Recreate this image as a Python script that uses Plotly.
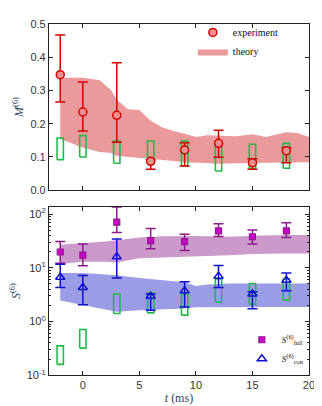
import plotly.graph_objects as go

# ----- Data ----- #
t_exp = [-2, 0, 3, 6, 9, 12, 15, 18]

# top panel: M^(6)
m_exp = [0.347, 0.235, 0.225, 0.087, 0.121, 0.141, 0.083, 0.119]
m_hi = [0.466, 0.325, 0.383, 0.092, 0.143, 0.180, 0.095, 0.128]
m_lo = [0.265, 0.178, 0.144, 0.063, 0.073, 0.099, 0.063, 0.083]
m_box_hi = [0.157, 0.164, 0.148, 0.148, 0.148, 0.133, 0.138, 0.141]
m_box_lo = [0.092, 0.100, 0.081, 0.080, 0.073, 0.058, 0.065, 0.066]

t_theory = [-2, 0, 1.5, 2.5, 3, 4, 5, 6, 7, 8, 9, 10, 11, 12, 13.5, 15, 16.2, 17, 18, 19, 20]
m_theory_hi = [0.338, 0.338, 0.330, 0.300, 0.272, 0.243, 0.241, 0.209, 0.189, 0.178, 0.170,
               0.160, 0.165, 0.163, 0.162, 0.168, 0.160, 0.167, 0.174, 0.172, 0.160]
m_theory_lo = [0.155, 0.128, 0.115, 0.112, 0.104, 0.100, 0.097, 0.095, 0.092, 0.088, 0.084,
               0.083, 0.082, 0.080, 0.081, 0.082, 0.083, 0.084, 0.084, 0.084, 0.084]

# bottom panel: S^(6)
s_full = [19.7, 17.2, 70.7, 32.0, 30.7, 48.6, 37.9, 48.6]
s_full_hi = [31.0, 27.9, 135.0, 54.0, 42.0, 66.0, 50.7, 68.8]
s_full_lo = [12.1, 10.9, 45.4, 22.7, 21.0, 38.4, 27.9, 36.8]

s_con = [6.7, 4.3, 16.0, 2.95, 3.73, 7.0, 3.25, 5.9]
s_con_hi = [11.6, 7.2, 34.4, 3.25, 5.5, 11.0, 3.6, 8.0]
s_con_lo = [4.3, 2.06, 6.5, 1.63, 1.87, 4.3, 1.74, 3.73]

s_box_hi = [0.353, 0.71, 3.25, 3.39, 3.25, 6.24, 5.1, 6.2]
s_box_lo = [0.16, 0.32, 1.41, 1.45, 1.32, 2.3, 2.1, 2.5]

t_band = [-2, 0, 2, 3, 5, 7, 9, 10, 11, 13, 15, 17, 18, 20]
full_band_hi = [27.0, 28.7, 31.0, 32.5, 36.8, 38.5, 39.5, 39.0, 38.5, 38.0, 39.5, 41.0, 41.0, 41.0]
full_band_lo = [11.8, 13.0, 13.0, 12.5, 15.0, 15.5, 16.0, 16.3, 16.5, 17.2, 18.0, 18.4, 18.4, 18.4]
con_band_hi = [8.0, 8.0, 7.5, 7.3, 6.5, 6.0, 5.4, 4.6, 4.9, 5.1, 5.1, 5.1, 5.1, 5.1]
con_band_lo = [2.46, 2.08, 1.67, 1.52, 1.63, 1.70, 1.75, 1.85, 1.87, 1.87, 1.87, 1.87, 1.87, 1.87]

log_major = [0.1, 1, 10, 100]
log_major_text = ["10<sup>-1</sup>", "10<sup>0</sup>", "10<sup>1</sup>", "10<sup>2</sup>"]

BOX_HALF = 0.28

RED = "#D40000"
GREEN = "#22B84A"
PURPLE = "#8E1A8E"
MAGENTA = "#CC00CC"
BLUE = "#1010C8"


def box_path(ts, lo, hi):
    xs, ys = [], []
    for t, a, b in zip(ts, lo, hi):
        xs += [t - BOX_HALF, t + BOX_HALF, t + BOX_HALF, t - BOX_HALF, t - BOX_HALF, None]
        ys += [a, a, b, b, a, None]
    return xs, ys


def err(center, hi, lo):
    return dict(
        type="data",
        symmetric=False,
        array=[h - c for h, c in zip(hi, center)],
        arrayminus=[c - l for c, l in zip(center, lo)],
    )


log_minor = [d * k for d in log_major[:-1] for k in range(2, 10)]

fig = go.Figure()

# ----- Top panel ----- #
fig.add_trace(
    go.Scatter(
        x=t_theory + t_theory[::-1],
        y=m_theory_hi + m_theory_lo[::-1],
        fill="toself",
        fillcolor="#EA9A9A",
        line=dict(width=0),
        mode="lines",
        name="theory",
        legend="legend",
        legendrank=2,
        xaxis="x",
        yaxis="y",
    )
)
bx, by = box_path(t_exp, m_box_lo, m_box_hi)
fig.add_trace(
    go.Scatter(x=bx, y=by, mode="lines", line=dict(color=GREEN, width=1.6),
               showlegend=False, xaxis="x", yaxis="y")
)
fig.add_trace(
    go.Scatter(
        x=t_exp,
        y=m_exp,
        mode="markers",
        name="experiment",
        legend="legend",
        legendrank=1,
        marker=dict(symbol="circle", size=8, color="#F29090", line=dict(color=RED, width=1.5)),
        error_y=dict(err(m_exp, m_hi, m_lo), color=RED, thickness=1.5, width=5),
        xaxis="x",
        yaxis="y",
    )
)

# ----- Bottom panel ----- #
fig.add_trace(
    go.Scatter(
        x=t_band + t_band[::-1],
        y=full_band_hi + full_band_lo[::-1],
        fill="toself",
        fillcolor="#CB9ACB",
        line=dict(width=0),
        mode="lines",
        showlegend=False,
        xaxis="x2",
        yaxis="y2",
    )
)
fig.add_trace(
    go.Scatter(
        x=t_band + t_band[::-1],
        y=con_band_hi + con_band_lo[::-1],
        fill="toself",
        fillcolor="#9B9BE6",
        line=dict(width=0),
        mode="lines",
        showlegend=False,
        xaxis="x2",
        yaxis="y2",
    )
)
bx, by = box_path(t_exp, s_box_lo, s_box_hi)
fig.add_trace(
    go.Scatter(x=bx, y=by, mode="lines", line=dict(color=GREEN, width=1.6),
               showlegend=False, xaxis="x2", yaxis="y2")
)
fig.add_trace(
    go.Scatter(
        x=t_exp,
        y=s_full,
        mode="markers",
        name="<i>S</i><sup>(6)</sup><sub>full</sub>",
        legend="legend2",
        marker=dict(symbol="square", size=6, color=MAGENTA, line=dict(color=PURPLE, width=1.2)),
        error_y=dict(err(s_full, s_full_hi, s_full_lo), color=PURPLE, thickness=1.5, width=5),
        xaxis="x2",
        yaxis="y2",
    )
)
fig.add_trace(
    go.Scatter(
        x=t_exp,
        y=s_con,
        mode="markers",
        name="<i>S</i><sup>(6)</sup><sub>con</sub>",
        legend="legend2",
        marker=dict(symbol="triangle-up-open", size=8, color=BLUE, line=dict(width=1.5)),
        error_y=dict(err(s_con, s_con_hi, s_con_lo), color=BLUE, thickness=1.5, width=5),
        xaxis="x2",
        yaxis="y2",
    )
)

# ----- Formatting ----- #
axis_common = dict(
    showline=True,
    linecolor="#222222",
    linewidth=1,
    mirror="ticks",
    ticks="inside",
    ticklen=4,
    tickcolor="#222222",
    showgrid=False,
    zeroline=False,
    tickfont=dict(family="Liberation Sans, Arial", size=11, color="#333333"),
)
serif = "Liberation Serif, DejaVu Serif, serif"

fig.update_layout(
    width=322,
    height=406,
    margin=dict(l=0, r=0, t=0, b=0),
    plot_bgcolor="white",
    paper_bgcolor="white",
    xaxis=dict(axis_common, domain=[0.1295, 0.9525], range=[-3, 20], dtick=5,
               showticklabels=False, anchor="y"),
    yaxis=dict(axis_common, domain=[0.5525, 0.9754], range=[0, 0.5], dtick=0.1,
               tickformat=".1f", anchor="x",
               title=dict(text="<i>M</i><sup>(6)</sup>", font=dict(family=serif, size=12),
                          standoff=4)),
    xaxis2=dict(axis_common, domain=[0.1295, 0.9525], range=[-3, 20], dtick=5, anchor="y2",
                title=dict(text="<i>t</i> (ms)", font=dict(family=serif, size=12), standoff=2)),
    yaxis2=dict(axis_common, domain=[0.083, 0.5099], type="log", range=[-1, 2.13],
                tickvals=log_major, ticktext=log_major_text,
                minor=dict(ticks="inside", ticklen=2, tickcolor="#222222", showgrid=False,
                           tickvals=log_minor),
                anchor="x2",
                title=dict(text="<i>S</i><sup>(6)</sup>", font=dict(family=serif, size=12),
                           standoff=4)),
    legend=dict(x=0.585, y=0.99, xanchor="left", yanchor="top", bgcolor="rgba(0,0,0,0)",
                font=dict(family=serif, size=10, color="#111111"), tracegroupgap=0,
                itemwidth=30),
    legend2=dict(x=0.74, y=0.21, xanchor="left", yanchor="top", bgcolor="rgba(0,0,0,0)",
                 font=dict(family=serif, size=9, color="#111111"), tracegroupgap=0,
                 itemwidth=30),
)

fig.write_html("out.html")
